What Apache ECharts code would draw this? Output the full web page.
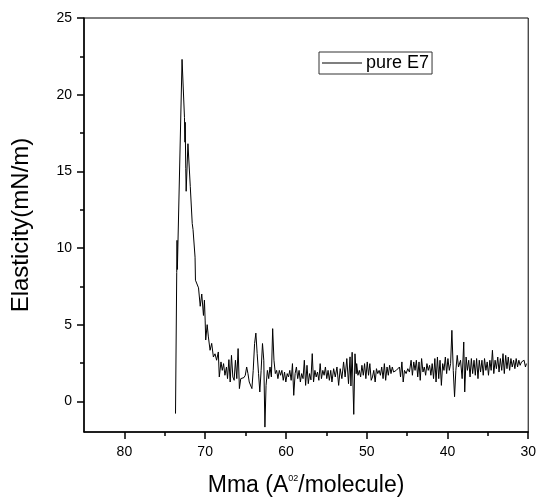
<!DOCTYPE html>
<html>
<head>
<meta charset="utf-8">
<script src="https://cdn.jsdelivr.net/npm/echarts@6/dist/echarts.min.js"></script>
<style>
html,body{margin:0;padding:0;background:#fff;}
#chart_main{width:539px;height:504px;}
</style>
</head>
<body>
<div id="chart_main"></div>
<script>
// Mma (x) 和 Elasticity (y)
var mma = [
	73.67,73.52,73.48,73.44,72.86,72.56,72.5,72.47,72.4,72.35,
	72.13,71.84,71.6,71.5,71.25,71.2,70.82,70.61,70.42,70.21,
	70.09,70.0,69.93,69.75,69.6,69.39,69.19,68.98,68.78,68.58,
	68.37,68.25,68.04,67.88,67.72,67.55,67.36,67.23,67.06,66.9,
	66.74,66.57,66.41,66.25,66.08,65.92,65.76,65.59,65.43,65.19,
	65.03,64.86,64.7,64.54,64.37,64.21,64.05,63.88,63.72,63.56,
	63.39,63.23,63.07,62.9,62.74,62.6,62.46,62.29,62.13,61.97,
	61.8,61.64,61.48,61.31,61.15,60.99,60.82,60.66,60.5,60.33,
	60.17,60.01,59.84,59.68,59.52,59.35,59.19,59.03,58.86,58.7,
	58.54,58.37,58.21,58.05,57.88,57.72,57.56,57.39,57.23,57.07,
	56.9,56.74,56.58,56.41,56.25,56.09,55.92,55.76,55.6,55.43,
	55.27,55.11,54.94,54.78,54.62,54.45,54.3,54.09,53.89,53.68,
	53.47,53.28,53.07,52.86,52.67,52.46,52.25,52.06,51.95,51.8,
	51.6,51.45,51.3,51.24,51.08,50.91,50.75,50.59,50.42,50.26,
	50.1,49.93,49.77,49.61,49.44,49.28,49.12,48.95,48.79,48.63,
	48.46,48.3,48.14,47.97,47.81,47.65,47.48,47.32,47.16,46.99,
	46.83,46.67,46.55,46.34,46.14,45.94,45.81,45.64,45.48,45.32,
	45.12,44.91,44.71,44.5,44.34,44.17,44.01,43.85,43.68,43.52,
	43.37,43.2,43.03,42.87,42.7,42.54,42.38,42.21,42.05,41.89,
	41.72,41.56,41.41,41.24,41.08,40.92,40.75,40.59,40.43,40.26,
	40.1,39.94,39.77,39.61,39.45,39.28,39.12,38.96,38.79,38.63,
	38.38,38.18,37.98,37.86,37.69,37.53,37.37,37.2,37.04,36.88,
	36.71,36.55,36.39,36.22,36.06,35.9,35.73,35.57,35.41,35.24,
	35.08,34.92,34.75,34.59,34.43,34.26,34.1,33.94,33.77,33.61,
	33.45,33.28,33.12,32.96,32.79,32.63,32.47,32.3,32.14,31.98,
	31.81,31.65,31.49,31.32,31.16,31.0,30.83,30.67,30.51,30.34,
	30.22
];
var elasticity = [
	-0.8,8.4,10.5,8.6,22.3,18.5,16.9,18.2,15.2,13.7,
	16.8,14.0,11.6,11.2,9.4,7.9,7.4,6.2,7.0,5.6,
	6.6,5.3,4.0,5.0,4.2,3.33,3.78,2.89,3.1,2.68,
	3.22,1.59,2.57,2.02,2.46,1.7,2.24,1.48,2.72,1.26,
	3.0,1.59,1.37,2.68,1.48,3.44,0.83,1.48,1.59,1.55,
	1.7,2.24,1.81,1.26,1.15,0.83,2.02,3.77,4.45,3.11,
	1.81,0.61,2.02,3.77,2.68,-1.68,1.04,2.02,1.48,2.24,
	1.59,4.74,2.68,1.81,2.02,1.48,2.02,1.7,2.02,1.37,
	1.91,1.26,1.81,1.59,2.02,1.37,2.46,0.39,1.81,2.24,
	1.48,2.02,1.26,1.81,1.48,2.68,1.04,2.35,1.15,1.81,
	1.4,3.11,1.26,2.02,1.59,1.91,1.37,2.46,1.48,2.02,
	1.7,2.24,1.48,2.02,1.37,2.02,1.26,2.13,1.59,2.24,
	1.04,2.13,1.48,2.57,1.59,2.79,1.15,2.9,1.0,3.2,
	-0.85,3.1,1.8,2.46,1.7,2.02,1.59,2.35,1.7,2.46,
	1.48,2.57,1.7,2.46,1.37,1.59,2.02,1.26,2.13,1.81,
	2.02,1.7,2.24,1.48,2.46,1.37,2.24,1.7,2.35,1.81,
	2.24,1.91,1.81,2.02,1.91,2.24,1.59,2.57,1.26,2.02,
	1.81,2.13,1.91,2.68,1.7,2.57,2.02,2.68,1.59,2.57,
	1.37,2.79,1.91,2.24,1.7,2.46,2.02,2.35,1.7,2.46,
	1.48,2.79,1.26,2.89,1.48,2.68,1.04,2.46,2.02,2.89,
	1.81,2.79,2.02,2.46,4.63,2.02,0.3,2.02,3.0,2.24,
	2.68,1.48,3.87,0.61,2.89,2.02,2.68,1.59,2.79,1.81,
	2.68,1.7,2.79,1.48,2.68,1.91,2.68,1.7,2.79,2.02,
	2.57,1.7,2.68,2.02,3.33,1.81,2.68,2.13,2.89,1.91,
	2.79,2.02,3.11,1.81,3.0,2.13,2.89,2.02,2.79,2.24,
	2.68,2.13,2.79,2.24,2.68,2.35,2.57,2.46,2.68,2.24,
	2.46
];
var xTickValues = [30, 40, 50, 60, 70, 80];
var xMinorValues = [35, 45, 55, 65, 75];
var yTickValues = [0, 5, 10, 15, 20, 25];
var yMinorValues = [2.5, 7.5, 12.5, 17.5, 22.5];

var points = [];
for (var i = 0; i < mma.length; i++) {
	points.push([mma[i], elasticity[i]]);
}

var chart = echarts.init(document.getElementById('chart_main'));
var font = 'Liberation Sans, Arial, sans-serif';
var axisLine = {show: true, onZero: false, lineStyle: {color: '#000', width: 1.5}};

option = {
	animation: false,
	backgroundColor: '#fff',
	grid: {
		left: 84, right: 7, top: 18, bottom: 72,
		show: true, borderColor: '#000', borderWidth: 1
	},
	legend: {
		data: ['pure E7'],
		left: 319, top: 52,
		icon: 'rect',
		itemWidth: 40, itemHeight: 1,
		itemGap: 0,
		padding: [2, 3, 2, 3],
		borderColor: '#333', borderWidth: 1,
		textStyle: {fontFamily: font, fontSize: 18, color: '#000', padding: [0, 0, 0, -1]}
	},
	xAxis: [
		{
			type: 'value', inverse: true, min: 30, max: 85, interval: 10,
			position: 'bottom',
			splitLine: {show: false},
			axisLine: axisLine,
			axisTick: {show: true, length: 7, customValues: xTickValues, lineStyle: {color: '#000', width: 1.5}},
			axisLabel: {customValues: xTickValues, margin: 13, fontFamily: font, fontSize: 14, color: '#000'},
			name: 'Mma (A{sup|02}/molecule)',
			nameLocation: 'middle', nameGap: 42,
			nameTextStyle: {
				fontFamily: font, fontSize: 23, color: '#000',
				rich: {sup: {fontFamily: font, fontSize: 9, color: '#000', verticalAlign: 'top', lineHeight: 10}}
			}
		},
		{
			//次刻度
			type: 'value', inverse: true, min: 30, max: 85, interval: 5,
			position: 'bottom',
			splitLine: {show: false},
			axisLine: {show: false, onZero: false},
			axisTick: {show: true, length: 4, customValues: xMinorValues, lineStyle: {color: '#000', width: 1.5}},
			axisLabel: {show: false}
		}
	],
	yAxis: [
		{
			type: 'value', min: -2, max: 25,
			position: 'left',
			splitLine: {show: false},
			axisLine: axisLine,
			axisTick: {show: true, length: 7, customValues: yTickValues, lineStyle: {color: '#000', width: 1.5}},
			axisLabel: {customValues: yTickValues, margin: 12, fontFamily: font, fontSize: 14, color: '#000'},
			name: 'Elasticity(mN/m)',
			nameLocation: 'middle', nameGap: 51,
			nameTextStyle: {fontFamily: font, fontSize: 24, color: '#000'}
		},
		{
			type: 'value', min: -2, max: 25,
			position: 'left',
			splitLine: {show: false},
			axisLine: {show: false, onZero: false},
			axisTick: {show: true, length: 4, customValues: yMinorValues, lineStyle: {color: '#000', width: 1.5}},
			axisLabel: {show: false}
		}
	],
	series: [
		{
			name: 'pure E7',
			type: 'line',
			xAxisIndex: 0, yAxisIndex: 0,
			data: points,
			showSymbol: false,
			symbol: 'none',
			lineStyle: {color: '#000', width: 1},
			itemStyle: {color: '#000'}
		}
	]
};
chart.setOption(option);
</script>
</body>
</html>
